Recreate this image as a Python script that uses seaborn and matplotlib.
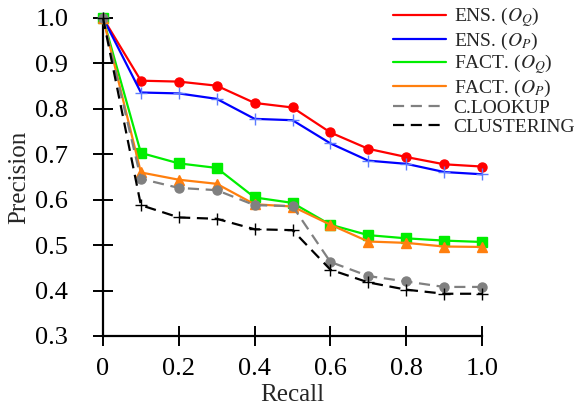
import matplotlib
matplotlib.use("Agg")
import matplotlib.pyplot as plt
from matplotlib.lines import Line2D
import seaborn as sns
import pandas as pd

recall = [0.0, 0.1, 0.2, 0.3, 0.4, 0.5, 0.6, 0.7, 0.8, 0.9, 1.0]

ens_q = [1.0, 0.862, 0.860, 0.851, 0.813, 0.803, 0.748, 0.712, 0.694, 0.678, 0.673]
ens_p = [1.0, 0.836, 0.834, 0.822, 0.778, 0.775, 0.724, 0.686, 0.679, 0.661, 0.656]
fact_q = [1.0, 0.703, 0.680, 0.670, 0.605, 0.593, 0.545, 0.522, 0.515, 0.510, 0.507]
fact_p = [1.0, 0.660, 0.644, 0.635, 0.590, 0.585, 0.545, 0.508, 0.505, 0.497, 0.496]
lookup = [1.0, 0.646, 0.626, 0.621, 0.588, 0.586, 0.463, 0.432, 0.420, 0.408, 0.408]
clustering = [1.0, 0.588, 0.561, 0.558, 0.535, 0.533, 0.446, 0.418, 0.402, 0.393, 0.393]

labels = [r"ENS. ($O_Q$)", r"ENS. ($O_P$)", r"FACT. ($O_Q$)", r"FACT. ($O_P$)",
          "C.LOOKUP", "CLUSTERING"]
series = [ens_q, ens_p, fact_q, fact_p, lookup, clustering]
xticks = [0, 0.2, 0.4, 0.6, 0.8, 1.0]
xticklabels = ["0", "0.2", "0.4", "0.6", "0.8", "1.0"]
yticks = [0.3, 0.4, 0.5, 0.6, 0.7, 0.8, 0.9, 1.0]
yticklabels = ["0.3", "0.4", "0.5", "0.6", "0.7", "0.8", "0.9", "1.0"]

# style per series: color, marker, linestyle
styles = [
    ("#ff0000", "o", "-"),
    ("#0000ff", "+", "-"),
    ("#00ee00", "s", "-"),
    ("#ff7f0e", "^", "-"),
    ("#808080", "o", (0, (5, 3))),
    ("#000000", "+", (0, (5, 3))),
]

sns.set_style("ticks")
plt.rcParams["font.family"] = ["Liberation Serif", "DejaVu Serif"]
plt.rcParams["mathtext.fontset"] = "stix"

fig = plt.figure(figsize=(5.87, 4.07), dpi=100)
ax = fig.add_axes([103 / 587, 1 - 336 / 407, (482 - 103) / 587, (336 - 18) / 407])

handles = []
for lab, vals, (col, mk, ls) in zip(labels, series, styles):
    df = pd.DataFrame({"Recall": recall, "Precision": vals})
    mcol = "#5c7cff" if col == "#0000ff" else col
    sns.lineplot(data=df, x="Recall", y="Precision", ax=ax, color=col,
                 linestyle=ls, linewidth=1.6, marker=mk, markersize=9 if mk == "+" else 6.5,
                 markeredgecolor=mcol, markerfacecolor=mcol, markeredgewidth=1.0,
                 clip_on=False, zorder=3)
    handles.append(Line2D([], [], color=col, linestyle=ls, linewidth=1.6, label=lab))

ax.set_xlim(0, 1.0)
ax.set_ylim(0.3, 1.0)
ax.set_xticks(xticks, xticklabels)
ax.set_yticks(yticks, yticklabels)
ax.tick_params(axis="x", direction="inout", length=14, width=1.4, labelsize=19,
               color="black", labelcolor="black", bottom=True, top=False, pad=9)
ax.tick_params(axis="y", direction="inout", length=14, width=1.4, labelsize=19,
               color="black", labelcolor="black", left=True, right=False, pad=18)

for s in ["top", "right"]:
    ax.spines[s].set_visible(False)
for s in ["left", "bottom"]:
    ax.spines[s].set_color("black")
    ax.spines[s].set_linewidth(1.6)
ax.set_xlabel("Recall", fontsize=18, labelpad=3)
ax.set_ylabel("Precision", fontsize=18, labelpad=4)

fig.legend(handles=handles, loc="upper right", bbox_to_anchor=(1.0, 1.015), frameon=False,
           fontsize=14, handlelength=2.7, handletextpad=0.4, labelspacing=0.05,
           borderaxespad=0.2)

fig.savefig("out.png", dpi=100)
